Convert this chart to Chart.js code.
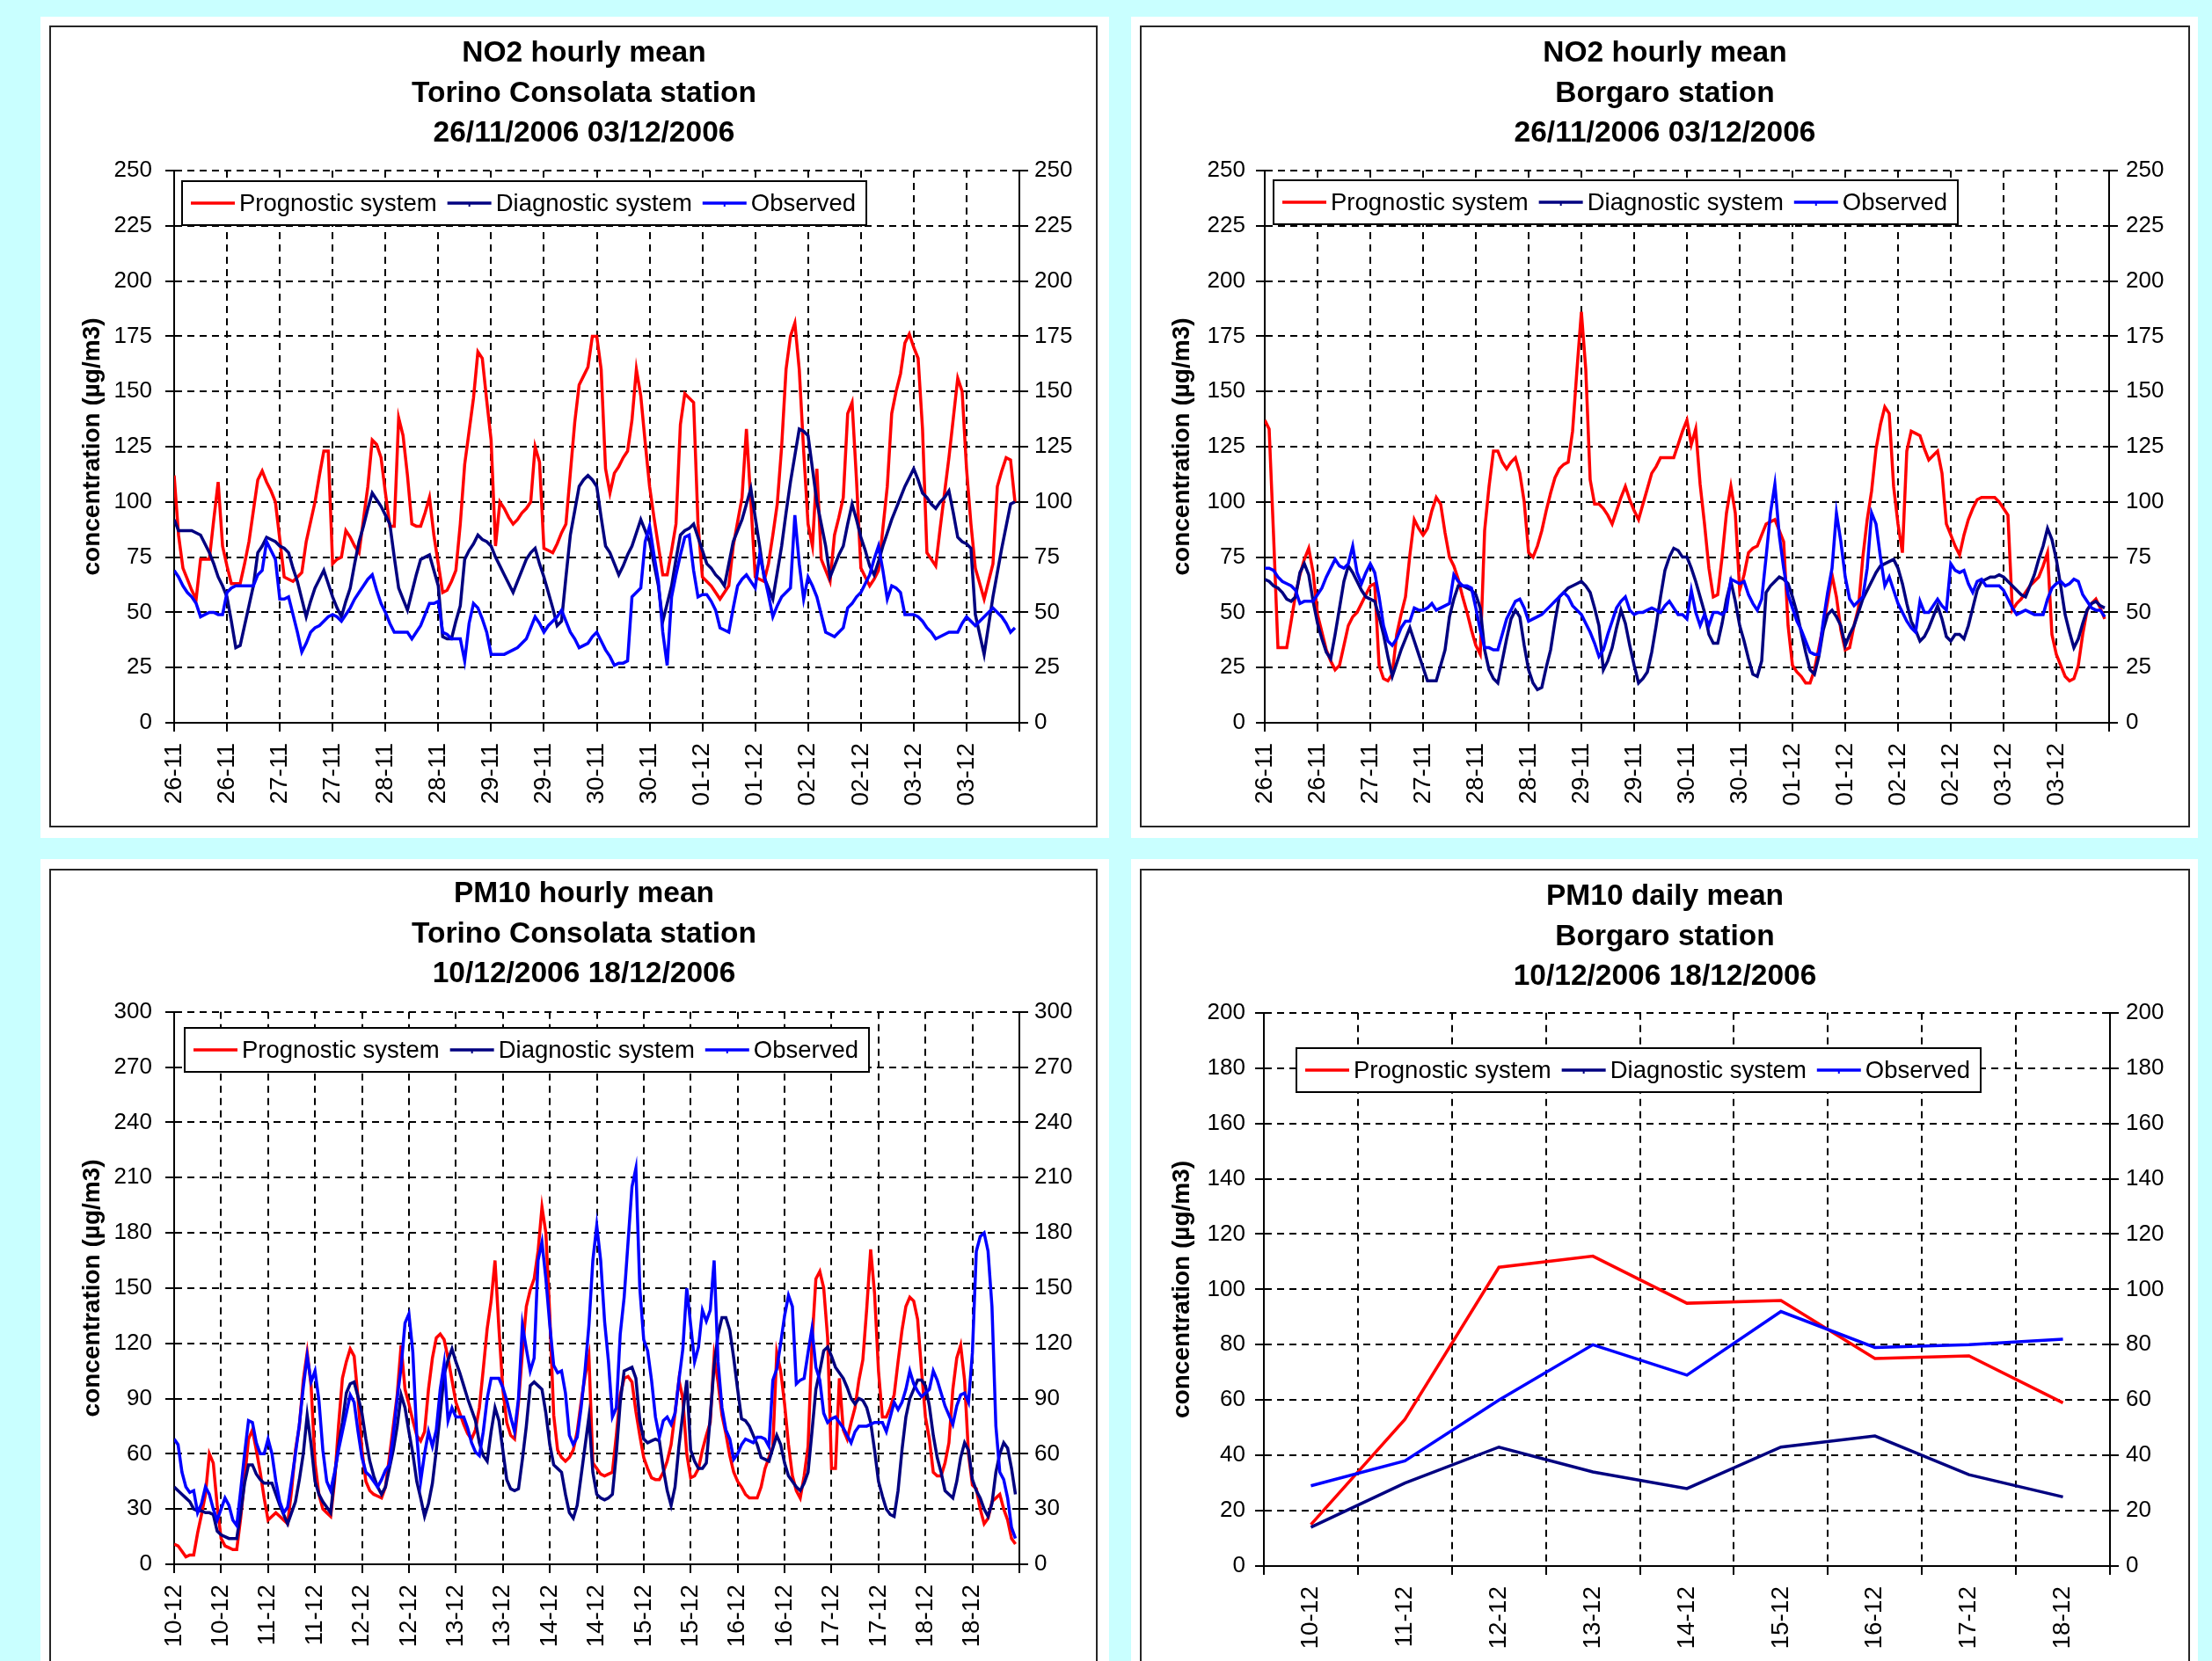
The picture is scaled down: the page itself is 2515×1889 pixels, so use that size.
<!DOCTYPE html>
<html>
<head>
<meta charset="utf-8">
<title>NO2 / PM10 - Torino Consolata, Borgaro</title>
<script src="https://cdn.jsdelivr.net/npm/chart.js@4.4.1/dist/chart.umd.min.js"></script>
<style>
  html, body { margin: 0; padding: 0; }
  body { width: 2515px; height: 1889px; background: #c9ffff; position: relative; overflow: hidden; }
  .sheet { position: absolute; background: #fff; }
  .frame { position: absolute; border: 2px solid #262626; background: #fff; }
  .frame canvas { display: block; }
</style>
</head>
<body>
<div class="sheet" style="left:46px;top:19px;width:1215px;height:934px"></div>
<div class="sheet" style="left:1286px;top:19px;width:1213px;height:934px"></div>
<div class="sheet" style="left:46px;top:977px;width:1215px;height:930px"></div>
<div class="sheet" style="left:1286px;top:977px;width:1213px;height:930px"></div>

<div class="frame" style="left:56px;top:29px;width:1188px;height:908px"><canvas id="torinoNo2" width="1188" height="908"></canvas></div>
<div class="frame" style="left:1296px;top:29px;width:1190px;height:908px"><canvas id="borgaroNo2" width="1190" height="908"></canvas></div>
<div class="frame" style="left:56px;top:988px;width:1188px;height:908px"><canvas id="torinoPm10" width="1188" height="908"></canvas></div>
<div class="frame" style="left:1296px;top:988px;width:1190px;height:908px"><canvas id="borgaroPm10" width="1190" height="908"></canvas></div>

<script>
// ---- axis labels ----
const no2Days = ["26-11","26-11","27-11","27-11","28-11","28-11","29-11","29-11",
                 "30-11","30-11","01-12","01-12","02-12","02-12","03-12","03-12"];
const pm10Days = ["10-12","10-12","11-12","11-12","12-12","12-12","13-12","13-12","14-12",
                  "14-12","15-12","15-12","16-12","16-12","17-12","17-12","18-12","18-12"];
const pm10DailyDays = ["10-12","11-12","12-12","13-12","14-12","15-12","16-12","17-12","18-12"];
const no2Ticks = [0, 25, 50, 75, 100, 125, 150, 175, 200, 225, 250];
const pm10HourlyTicks = [0, 30, 60, 90, 120, 150, 180, 210, 240, 270, 300];
const pm10DailyTicks = [0, 20, 40, 60, 80, 100, 120, 140, 160, 180, 200];
const HOURS_PER_LABEL = 12;

// ---- NO2 hourly, Torino Consolata (26/11 - 03/12) ----
const torinoNo2Prognostic = [
  112,85,70,65,60,56,74,74,74,92, 109,80,71,63,63,63,72,82,96,110,
  114,109,105,100,83,66,65,64,66,68, 82,91,100,112,123,123,72,74,75,87,
  84,80,77,92,107,128,126,120,104,89, 89,138,130,112,90,89,89,95,102,85,
  72,59,60,64,69,90,117,132,147,168, 165,146,128,80,100,97,93,90,92,95,
  97,100,125,118,79,78,77,81,86,90, 113,136,153,157,161,175,175,160,115,104,
  113,116,120,123,137,160,148,127,107,93, 80,67,67,78,90,135,149,147,145,90,
  66,64,62,59,56,59,62,80,91,102, 133,100,66,65,64,72,85,99,125,160,
  175,181,160,123,90,80,115,74,69,64, 85,93,102,140,145,110,70,66,62,65,
  69,88,107,140,150,158,172,176,170,165, 133,77,74,71,88,104,120,138,156,150,
  115,90,70,63,56,64,72,107,114,120, 119,100
];
const torinoNo2Diagnostic = [
  92,87,87,87,87,86,85,81,77,72, 66,62,57,46,34,35,44,53,62,77,
  80,84,83,82,80,79,77,70,64,56, 48,55,61,65,69,63,57,52,48,55,
  61,72,82,89,97,104,101,98,94,90, 75,61,56,51,59,67,74,75,76,69,
  62,39,38,38,46,53,74,78,81,85, 83,82,80,75,71,67,63,59,64,69,
  74,77,79,72,66,59,52,44,46,66, 85,96,107,110,112,110,107,93,80,77,
  72,67,71,76,80,86,92,87,82,72, 62,46,54,62,74,85,87,88,90,84,
  78,72,70,67,65,62,72,82,87,92, 99,106,93,80,66,61,56,68,80,95,
  109,121,133,132,130,115,100,90,80,66, 71,76,80,90,99,92,84,78,71,67,
  73,80,86,92,97,102,107,111,115,110, 104,102,99,97,100,102,105,95,84,82,
  81,79,49,40,31,44,57,68,79,89, 99,100
];
const torinoNo2Observed = [
  69,66,62,59,57,54,48,49,50,50, 49,49,59,61,62,62,62,62,62,67,
  69,82,78,74,56,56,57,49,41,32, 36,41,43,44,46,48,49,48,46,49,
  52,56,59,62,65,67,60,54,50,45, 41,41,41,41,38,41,44,49,54,54,
  55,41,40,38,38,38,28,45,54,52, 47,41,31,31,31,31,32,33,34,36,
  38,43,48,45,41,44,46,48,51,46, 41,38,34,35,36,39,41,37,33,30,
  26,27,27,28,57,59,61,82,89,76, 64,41,26,57,67,76,84,85,69,57,
  58,58,55,51,43,42,41,52,62,65, 67,64,61,76,67,58,48,53,57,59,
  61,94,72,56,66,62,57,49,41,40, 39,41,43,52,54,57,59,63,67,74,
  80,69,56,62,61,59,49,49,49,48, 46,43,41,38,39,40,41,41,41,45,
  48,46,44,46,48,50,52,50,48,45, 41,43
];

// ---- NO2 hourly, Borgaro (26/11 - 03/12) ----
const borgaroNo2Prognostic = [
  137,133,85,34,34,34,46,58,67,74, 79,68,49,41,33,28,24,26,35,44,
  48,50,54,58,62,63,26,20,19,22, 40,49,57,76,92,88,85,88,96,102,
  99,86,75,71,65,57,50,42,35,31, 87,107,123,123,118,115,118,120,113,100,
  77,75,80,87,96,104,111,115,117,118, 132,160,186,160,110,99,99,97,94,90,
  96,102,107,101,96,92,99,106,113,116, 120,120,120,120,126,132,137,126,133,108,
  90,70,57,58,75,95,107,95,60,67, 77,79,80,85,90,91,92,87,82,44,
  26,23,21,18,18,24,34,44,55,67, 57,42,33,34,44,52,75,92,105,124,
  135,143,140,107,90,77,123,132,131,130, 124,119,121,123,113,90,85,80,76,85,
  92,97,101,102,102,102,102,100,97,94, 51,54,56,59,62,64,66,71,77,40,
  31,26,21,19,20,26,40,51,54,56, 52,47
];
const borgaroNo2Diagnostic = [
  65,64,62,61,59,56,55,57,68,72, 67,55,45,38,32,29,40,52,64,71,
  68,64,60,57,56,55,48,40,30,21, 27,33,38,43,37,31,25,19,19,19,
  26,33,48,56,62,62,61,60,58,52, 33,24,20,18,28,38,47,51,48,35,
  24,18,15,16,25,33,46,57,59,61, 62,63,64,62,59,52,44,24,28,34,
  43,51,45,35,26,18,20,23,32,44, 57,69,75,79,78,75,75,70,64,57,
  50,40,36,36,45,56,64,55,44,37, 29,22,21,28,59,62,64,66,65,63,
  57,50,41,32,24,22,30,42,49,51, 48,44,35,40,44,50,56,60,64,68,
  71,72,73,74,70,63,54,46,42,37, 39,43,48,53,47,39,37,40,40,38,
  44,52,60,64,65,66,66,67,66,64, 62,60,58,57,62,67,74,80,88,83,
  74,62,49,41,34,38,45,51,54,55, 53,52
];
const borgaroNo2Observed = [
  70,70,69,66,64,63,62,60,54,55, 55,55,58,61,66,70,74,71,70,72,
  80,68,63,68,72,68,57,44,37,35, 38,43,46,46,52,51,51,52,54,51,
  52,53,54,67,64,62,62,61,52,42, 34,34,33,33,40,47,51,55,56,52,
  46,47,48,49,51,53,55,57,59,57, 53,51,49,45,41,36,30,33,40,46,
  52,55,57,51,49,50,50,51,52,51, 50,53,55,52,49,49,47,60,50,44,
  49,44,50,50,49,51,65,64,63,64, 58,54,51,56,75,95,108,85,70,58,
  52,46,42,37,32,31,31,46,59,70, 95,82,66,56,53,55,57,70,95,90,
  75,62,66,60,54,50,46,43,41,55, 50,50,53,56,53,51,72,69,68,69,
  63,59,64,65,62,62,62,62,60,56, 52,49,50,51,50,49,49,49,56,61,
  63,64,62,63,65,64,58,55,52,51, 51,48
];

// ---- PM10 hourly, Torino Consolata (10/12 - 18/12) ----
const torinoPm10Prognostic = [
  11,10,7,4,5,5,17,27,38,60, 55,32,14,10,9,8,8,25,46,68,
  73,62,50,36,24,26,28,26,24,22, 40,62,75,100,115,97,55,38,30,28,
  26,45,75,101,110,117,113,90,62,45, 40,38,37,36,42,58,75,92,119,95,
  87,78,70,67,72,95,112,123,125,122, 112,100,88,82,76,71,68,73,85,106,
  128,143,165,128,95,77,70,68,88,115, 140,149,155,170,194,180,135,81,62,58,
  56,58,62,72,88,102,113,55,52,49, 48,49,50,70,92,101,102,99,83,70,
  58,52,47,46,46,50,56,65,82,100, 90,60,47,48,52,62,70,77,113,99,
  81,71,59,50,45,42,38,36,36,36, 42,52,58,64,115,105,87,65,48,40,
  36,48,64,120,155,159,150,123,52,52, 101,73,68,77,85,100,111,139,171,147,
  105,80,80,85,92,110,127,140,145,143, 133,105,80,68,50,48,48,55,66,95,
  112,119,100,60,43,41,30,22,25,34, 36,38,30,24,14,11
];
const torinoPm10Diagnostic = [
  42,40,38,36,34,30,29,29,28,28, 27,18,16,15,14,14,14,28,44,54,
  54,49,46,44,44,44,38,32,27,22, 28,34,46,60,81,65,45,38,34,31,
  28,48,64,77,93,98,99,91,82,68, 56,48,42,38,42,52,62,75,92,85,
  72,60,45,36,26,33,44,62,82,103, 111,117,110,104,97,90,84,78,66,59,
  56,72,85,78,62,46,41,40,41,57, 75,97,99,97,95,82,65,54,52,50,
  38,28,25,32,48,64,80,50,38,36, 35,36,38,60,88,105,106,107,101,78,
  68,66,67,68,67,52,40,32,42,64, 82,100,62,56,52,52,55,80,108,125,
  134,134,127,112,95,79,78,75,70,65, 58,57,56,63,70,65,55,48,45,42,
  40,44,50,72,95,105,116,118,113,107, 104,101,96,90,87,90,89,85,77,62,
  45,37,30,27,26,40,62,80,90,95, 100,100,97,86,70,58,50,40,38,36,
  45,58,66,62,46,40,36,30,26,33, 50,60,66,63,52,38
];
const torinoPm10Observed = [
  68,65,50,42,39,40,28,33,42,38, 30,24,30,36,32,24,21,40,60,78,
  77,66,60,60,68,60,45,34,28,31, 45,60,76,96,113,99,105,89,62,45,
  40,50,62,72,82,92,88,72,58,50, 48,45,42,46,51,54,70,90,107,131,
  136,115,70,45,60,72,64,73,95,109, 78,85,80,80,80,74,66,61,59,72,
  90,101,101,101,96,89,80,72,90,130, 117,105,112,165,175,155,130,108,104,105,
  93,70,65,69,85,105,130,165,184,165, 132,110,80,85,125,145,175,205,215,150,
  122,116,100,80,69,78,80,76,82,100, 117,150,130,110,118,138,132,138,165,110,
  85,73,68,57,60,65,68,67,66,69, 69,68,64,100,106,120,135,146,140,98,
  100,101,115,128,107,100,82,77,79,80, 77,74,70,66,72,75,75,75,76,77,
  77,77,72,80,88,84,88,95,105,98, 94,91,93,95,105,100,93,86,81,76,
  86,92,93,88,115,170,178,180,170,140, 75,50,46,36,20,14
];

// ---- PM10 daily, Borgaro (10/12 - 18/12) ----
const borgaroPm10Prognostic = [15, 53, 108, 112, 95, 96, 75, 76, 59];
const borgaroPm10Diagnostic = [14, 30, 43, 34, 28, 43, 47, 33, 25];
const borgaroPm10Observed   = [29, 38, 60, 80, 69, 92, 79, 80, 82];

const seriesNames = ["Prognostic system", "Diagnostic system", "Observed"];
const seriesColors = ["#ff0000", "#000080", "#0000ff"];

const FONT = '"Liberation Sans", Arial, Helvetica, sans-serif';
Chart.defaults.font.family = FONT;
Chart.defaults.color = "#000";

// legend drawn as a framed box inside the plot, like the spreadsheet one
const boxLegend = {
  id: "boxLegend",
  afterDraw(chart, args, opts) {
    const ctx = chart.ctx;
    const sets = chart.data.datasets;
    ctx.save();
    ctx.font = "27.5px " + FONT;
    let w = 10;
    sets.forEach(d => { w += 55 + ctx.measureText(d.label).width + 12; });
    const h = 50;
    ctx.fillStyle = "#fff";
    ctx.fillRect(opts.x, opts.y, w, h);
    ctx.strokeStyle = "#000";
    ctx.lineWidth = 2;
    ctx.strokeRect(opts.x, opts.y, w, h);
    let x = opts.x + 10;
    const my = opts.y + h / 2;
    sets.forEach((d, k) => {
      ctx.strokeStyle = d.borderColor;
      ctx.lineWidth = 3.5;
      ctx.beginPath();
      ctx.moveTo(x, my);
      ctx.lineTo(x + 50, my);
      ctx.stroke();
      if (k > 0) {
        // small marker tick in the middle of the sample
        ctx.lineWidth = 2;
        ctx.beginPath();
        ctx.moveTo(x + 25, my);
        ctx.lineTo(x + 25, my + 4);
        ctx.stroke();
      }
      ctx.fillStyle = "#000";
      ctx.textAlign = "left";
      ctx.textBaseline = "middle";
      ctx.fillText(d.label, x + 55, my + 1);
      x += 55 + ctx.measureText(d.label).width + 12;
    });
    ctx.restore();
  }
};

function gridStyle(onChart) {
  return { color: "#000", lineWidth: 2, tickLength: 10, tickColor: "#000", tickWidth: 2, drawOnChartArea: onChart };
}
function borderStyle() {
  return { display: true, color: "#000", width: 2, dash: [8, 6] };
}

function yAxis(p, position) {
  const left = position === "left";
  const ax = {
    type: "linear",
    position: position,
    min: p.yTicks[0],
    max: p.yTicks[p.yTicks.length - 1],
    afterBuildTicks: s => { s.ticks = p.yTicks.map(v => ({ value: v })); },
    afterFit: s => { s.width = left ? p.yWidth : p.y2Width; },
    grid: gridStyle(left),
    border: borderStyle(),
    ticks: { font: { size: 26 }, color: "#000", padding: left ? p.yPad : p.y2Pad }
  };
  if (left) {
    ax.title = {
      display: true,
      text: "concentration (\u00b5g/m3)",
      color: "#000",
      font: { size: 28, weight: "bold" },
      padding: { top: p.yTitlePad, bottom: 0 }
    };
  }
  return ax;
}

function hourlyX(p) {
  const hours = p.days.length * HOURS_PER_LABEL;
  return {
    type: "linear",
    min: 0,
    max: hours,
    afterBuildTicks: s => {
      s.ticks = p.days.map((d, i) => ({ value: i * HOURS_PER_LABEL })).concat([{ value: hours }]);
    },
    afterFit: s => { s.height = p.xHeight; },
    grid: gridStyle(true),
    border: borderStyle(),
    ticks: {
      autoSkip: false, minRotation: 90, maxRotation: 90, padding: 13,
      font: { size: 28 }, color: "#000",
      callback: (v, i) => (i < p.days.length ? p.days[i] : "")
    }
  };
}

function dailyX(p) {
  return {
    type: "category",
    offset: true,
    afterFit: s => { s.height = p.xHeight; },
    grid: Object.assign(gridStyle(true), { offset: true }),
    border: borderStyle(),
    ticks: { autoSkip: false, minRotation: 90, maxRotation: 90, padding: 13, font: { size: 28 }, color: "#000" }
  };
}

function makePanel(p) {
  const datasets = p.series.map((vals, k) => ({
    label: seriesNames[k],
    data: p.daily ? vals : vals.map((v, h) => ({ x: h, y: v })),
    borderColor: seriesColors[k],
    backgroundColor: seriesColors[k],
    borderWidth: 3.5,
    pointRadius: 0,
    tension: 0,
    order: 3 - k
  }));
  new Chart(document.getElementById(p.id), {
    type: "line",
    data: p.daily ? { labels: p.days, datasets } : { datasets },
    plugins: [boxLegend],
    options: {
      responsive: false,
      animation: false,
      events: [],
      layout: { padding: { left: p.padLeft, right: 0, top: 0, bottom: 0 } },
      plugins: {
        legend: { display: false },
        tooltip: { enabled: false },
        title: {
          display: true,
          text: p.title,
          color: "#000",
          font: { size: 33.5, weight: "bold", lineHeight: 1.36 },
          padding: p.titlePad
        },
        boxLegend: p.legend
      },
      scales: {
        x: p.daily ? dailyX(p) : hourlyX(p),
        y: yAxis(p, "left"),
        y2: yAxis(p, "right")
      }
    }
  });
}

makePanel({
  id: "torinoNo2",
  title: ["NO2 hourly mean", "Torino Consolata station", "26/11/2006 03/12/2006"],
  days: no2Days, yTicks: no2Ticks,
  series: [torinoNo2Prognostic, torinoNo2Diagnostic, torinoNo2Observed],
  padLeft: 24, yWidth: 116, y2Width: 87, xHeight: 117,
  titlePad: { top: 7, bottom: 19.3 }, yTitlePad: 6, yPad: 15, y2Pad: 7,
  legend: { x: 149, y: 175 }
});
makePanel({
  id: "borgaroNo2",
  title: ["NO2 hourly mean", "Borgaro station", "26/11/2006 03/12/2006"],
  days: no2Days, yTicks: no2Ticks,
  series: [borgaroNo2Prognostic, borgaroNo2Diagnostic, borgaroNo2Observed],
  padLeft: 0, yWidth: 140, y2Width: 90, xHeight: 117,
  titlePad: { top: 7, bottom: 19.3 }, yTitlePad: 29, yPad: 12, y2Pad: 9,
  legend: { x: 150, y: 174 }
});
makePanel({
  id: "torinoPm10",
  title: ["PM10 hourly mean", "Torino Consolata station", "10/12/2006 18/12/2006"],
  days: pm10Days, yTicks: pm10HourlyTicks,
  series: [torinoPm10Prognostic, torinoPm10Diagnostic, torinoPm10Observed],
  padLeft: 24, yWidth: 116, y2Width: 87, xHeight: 119,
  titlePad: { top: 4, bottom: 20.1 }, yTitlePad: 6, yPad: 15, y2Pad: 7,
  legend: { x: 152, y: 179 }
});
makePanel({
  id: "borgaroPm10",
  daily: true,
  title: ["PM10 daily mean", "Borgaro station", "10/12/2006 18/12/2006"],
  days: pm10DailyDays, yTicks: pm10DailyTicks,
  series: [borgaroPm10Prognostic, borgaroPm10Diagnostic, borgaroPm10Observed],
  padLeft: 0, yWidth: 139, y2Width: 89, xHeight: 117,
  titlePad: { top: 7, bottom: 18.1 }, yTitlePad: 29, yPad: 11, y2Pad: 8,
  legend: { x: 176, y: 202 }
});
</script>
</body>
</html>
